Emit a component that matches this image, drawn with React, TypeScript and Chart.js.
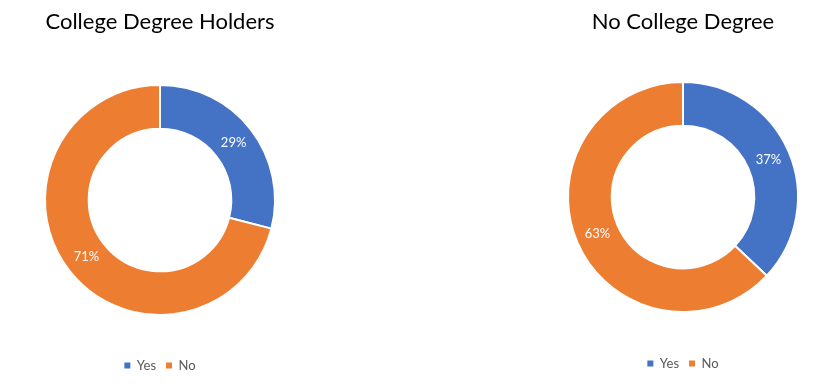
import React, { useEffect, useRef } from 'react';
import { Chart, registerables } from 'chart.js';
Chart.register(...registerables);

const categories = ['Yes', 'No'];
const collegeValues = [29, 71];
const noCollegeValues = [37, 63];
const chartTitles = ['College Degree Holders', 'No College Degree'];
const sliceColors = ['#4472C4', '#ED7D31'];

const FONT = 'Lato, "Open Sans", sans-serif';

const sliceLabelPlugin = {
  id: 'sliceLabels',
  afterDatasetsDraw(chart: any) {
    const ctx = chart.ctx;
    const meta = chart.getDatasetMeta(0);
    const data = chart.data.datasets[0].data as number[];
    const total = data.reduce((a, b) => a + b, 0);
    ctx.save();
    ctx.fillStyle = '#ffffff';
    ctx.font = `13px ${FONT}`;
    ctx.textAlign = 'center';
    ctx.textBaseline = 'middle';
    meta.data.forEach((arc: any, i: number) => {
      const p = arc.tooltipPosition();
      ctx.fillText(Math.round((data[i] / total) * 100) + '%', p.x, p.y);
    });
    ctx.restore();
  },
};

function Donut(props: { values: number[]; title: string; left: number; width: number; height: number; titleBottom: number }) {
  const ref = useRef<HTMLCanvasElement>(null);
  useEffect(() => {
    if (!ref.current) return;
    const chart = new Chart(ref.current, {
      type: 'doughnut',
      data: {
        labels: categories,
        datasets: [
          {
            data: props.values,
            backgroundColor: sliceColors,
            borderColor: '#ffffff',
            borderWidth: 2,
          },
        ],
      },
      options: {
        animation: false,
        responsive: false,
        radius: 115,
        cutout: '62%',
        layout: { padding: 0 },
        plugins: {
          title: {
            display: true,
            text: props.title,
            color: '#000000',
            font: { family: FONT, size: 22, weight: 'normal' },
            padding: { top: 9, bottom: props.titleBottom },
          },
          legend: {
            position: 'bottom',
            labels: {
              boxWidth: 6,
              boxHeight: 6,
              padding: 10,
              color: '#595959',
              font: { family: FONT, size: 13 },
              generateLabels: (chart: any) =>
                (Chart as any).overrides.doughnut.plugins.legend.labels
                  .generateLabels(chart)
                  .map((l: any) => ({ ...l, lineWidth: 0, strokeStyle: 'rgba(0,0,0,0)' })),
            },
          },
          tooltip: { enabled: false },
        },
      } as any,
      plugins: [sliceLabelPlugin],
    });
    return () => chart.destroy();
  }, []);
  return (
    <canvas
      ref={ref}
      width={props.width}
      height={props.height}
      style={{ position: 'absolute', left: props.left, top: 0, width: props.width, height: props.height }}
    />
  );
}

export default function App() {
  return (
    <div style={{ position: 'fixed', left: 0, top: 0, width: 833, height: 391, overflow: 'hidden', background: '#ffffff' }}>
      <Donut values={collegeValues} title={chartTitles[0]} left={0} width={320} height={382} titleBottom={15.6} />
      <Donut values={noCollegeValues} title={chartTitles[1]} left={533} width={300} height={380} titleBottom={11.6} />
    </div>
  );
}
